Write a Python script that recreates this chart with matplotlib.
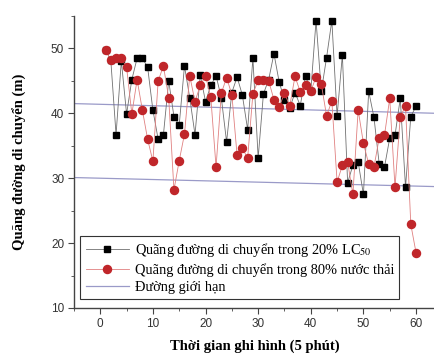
import numpy as np
import matplotlib.pyplot as plt
from matplotlib.ticker import MultipleLocator

plt.rcParams['mathtext.fontset'] = 'stix'

# thoi gian (5 phut)
t = list(range(1, 61))

# quang duong trong 20% LC50
lc50 = [49.8, 48.2, 36.7, 48.1, 39.9, 45.2, 48.5, 48.5, 47.1, 40.5,
        36.0, 36.7, 45.0, 39.5, 38.2, 47.3, 42.4, 36.7, 45.9, 41.8,
        44.3, 45.8, 42.4, 35.6, 43.2, 45.6, 42.8, 37.5, 48.5, 33.1,
        43.0, 45.2, 49.2, 44.8, 42.1, 40.8, 43.2, 41.2, 45.8, 43.4,
        54.3, 43.4, 48.6, 54.3, 39.6, 49.0, 29.3, 32.0, 32.5, 27.5,
        43.4, 39.4, 32.2, 31.7, 36.2, 36.6, 42.3, 28.6, 39.5, 41.1]

# quang duong trong 80% nuoc thai
nuocthai = [49.8, 48.2, 48.5, 48.5, 47.1, 39.9, 45.2, 40.5, 36.0, 32.6,
            45.0, 47.3, 42.4, 28.2, 32.7, 36.8, 45.8, 41.8, 44.3, 45.8,
            42.5, 31.7, 43.1, 45.5, 42.9, 33.5, 34.6, 33.1, 43.0, 45.1,
            45.2, 45.0, 42.1, 40.9, 43.2, 41.1, 45.7, 43.3, 44.3, 43.4,
            45.6, 44.5, 39.6, 41.9, 29.4, 32.0, 32.5, 27.5, 40.5, 35.4,
            32.2, 31.7, 36.2, 36.6, 42.3, 28.6, 39.5, 41.1, 22.9, 18.5]

# duong gioi han
lim_x = [-5, 64]
lim_tren = [41.5, 40.0]
lim_duoi = [30.1, 28.7]

fig = plt.figure(figsize=(4.35, 3.56), dpi=100)
ax = fig.add_axes([0.170, 0.135, 0.830, 0.820])

ax.plot(t, lc50, color='#707070', lw=0.6, marker='s', ms=4.5,
        mfc='black', mec='black', label='Quãng đường di chuyển trong 20% LC$_{50}$', zorder=3)
ax.plot(t, nuocthai, color='#e08080', lw=0.6, marker='o', ms=5.8,
        mfc='#c0262a', mec='#c0262a', label='Quãng đường di chuyển trong 80% nước thải', zorder=4)
ax.plot(lim_x, lim_tren, color='#9a9ac8', lw=0.9, label='Đường giới hạn', zorder=2)
ax.plot(lim_x, lim_duoi, color='#9a9ac8', lw=0.9, zorder=2)

ax.set_xlim(-5, 63.6)
ax.set_ylim(10, 55)
ax.xaxis.set_major_locator(MultipleLocator(10))
ax.xaxis.set_minor_locator(MultipleLocator(5))
ax.yaxis.set_major_locator(MultipleLocator(10))
ax.yaxis.set_minor_locator(MultipleLocator(5))

# bo khung tren va phai
ax.spines['right'].set_color('none')
ax.spines['top'].set_color('none')
for s in ['left', 'bottom']:
    ax.spines[s].set_color('#444444')
    ax.spines[s].set_linewidth(1.0)
ax.tick_params(which='both', direction='out', color='#444444')
ax.tick_params(which='major', length=4, labelsize=8.5, pad=3)
ax.tick_params(which='minor', length=2.5)
for lb in ax.get_xticklabels() + ax.get_yticklabels():
    lb.set_family('Liberation Sans')
    lb.set_color('#333333')

ax.set_xlabel('Thời gian ghi hình (5 phút)', family='Liberation Serif',
              fontsize=10.5, fontweight='bold', labelpad=7)
ax.set_ylabel('Quãng đường di chuyển (m)', family='Liberation Serif',
              fontsize=10.5, fontweight='bold', labelpad=17)

leg = ax.legend(loc='lower left', bbox_to_anchor=(0.01, 0.02), frameon=True,
                fancybox=False, edgecolor='#333333', framealpha=1,
                prop={'family': 'Liberation Serif', 'size': 10.4},
                handlelength=3.0, labelspacing=0.3, borderpad=0.35,
                borderaxespad=0.2, handletextpad=0.4)
leg.get_frame().set_linewidth(0.8)

fig.savefig('out.png', dpi=100)
